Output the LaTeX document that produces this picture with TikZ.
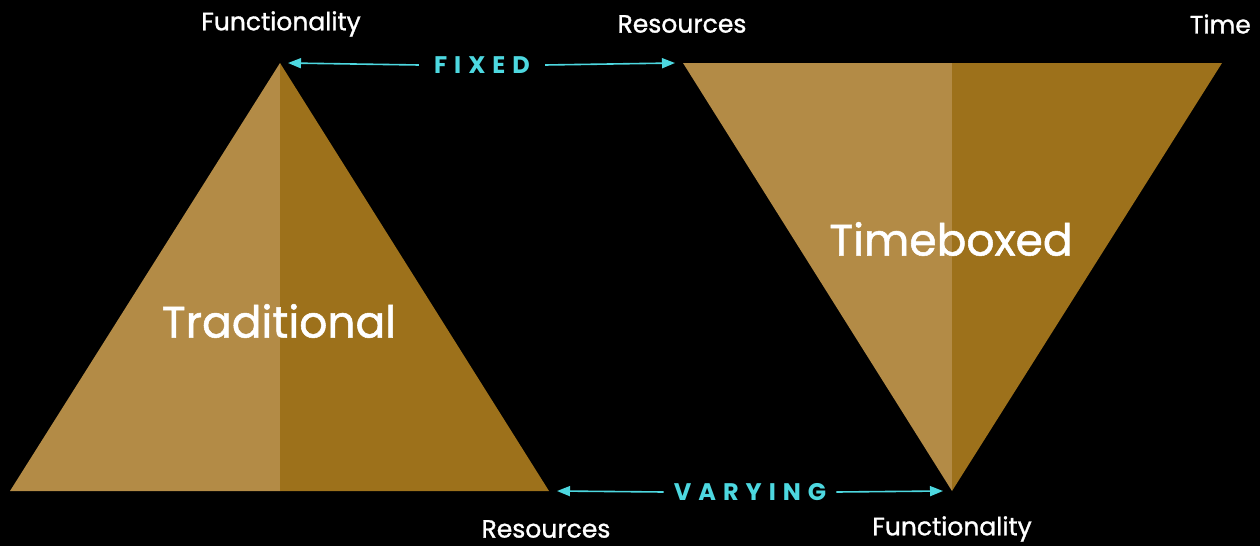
\documentclass[tikz,border=0pt]{standalone}
\usepackage{fontspec}
\setmainfont{Poppins}
\newfontfamily\medfont[FakeBold=1.2]{Poppins}
\usetikzlibrary{arrows.meta}
\definecolor{light}{HTML}{B38B46}
\definecolor{dark}{HTML}{9D711B}
\definecolor{cyanish}{HTML}{4DD8E0}
\newcommand{\lsp}{\hspace{7pt}}
\tikzset{
  lbl/.style={text=white, font=\medfont\fontsize{25}{28}\selectfont, inner sep=0pt},
  big/.style={text=white, font=\medfont\fontsize{44}{50}\selectfont, inner sep=0pt},
  tag/.style={text=cyanish, font=\fontsize{24}{28}\selectfont\bfseries, inner sep=0pt},
  arr/.style={draw=cyanish, line width=1.6pt, -{Triangle[length=13pt,width=10pt]}},
}
\begin{document}
\begin{tikzpicture}[x=1pt,y=-1pt]
\fill[black] (0,0) rectangle (1260,546);
\useasboundingbox (0,0) rectangle (1260,546);
% left triangle
\fill[light] (280,63) -- (10,491) -- (280,491) -- cycle;
\fill[dark] (280,63) -- (549,491) -- (280,491) -- cycle;
% right triangle
\fill[light] (683,63) -- (952,63) -- (952,491) -- cycle;
\fill[dark] (952,63) -- (1222,63) -- (952,491) -- cycle;
\coordinate (ltop) at (288,63);
\coordinate (rtopL) at (675,63);
\coordinate (lbr) at (557,491);
\coordinate (rbot) at (943,491);
\node[big] (trad) at (279,321) {Traditional};
\node[big] (tbox) at (951,239) {Timeboxed};
\node[tag] (fixed) at (482,65) {F\lsp I\lsp X\lsp E\lsp D};
\node[tag] (varying) at (750,492) {V\lsp A\lsp R\lsp Y\lsp I\lsp N\lsp G};
\draw[arr] (fixed.west) ++(-15pt,0) -- (ltop);
\draw[arr] (fixed.east) ++(15pt,0) -- (rtopL);
\draw[arr] (varying.west) ++(-10pt,0) -- (lbr);
\draw[arr] (varying.east) ++(10pt,0) -- (rbot);
\node[lbl] (f1) at (281,24) {Functionality};
\node[lbl] (r1) at (682,24) {Resources};
\node[lbl, anchor=east] (t1) at (1251,24) {Time};
\node[lbl] (r2) at (546,529) {Resources};
\node[lbl] (f2) at (952,529) {Functionality};
\end{tikzpicture}
\end{document}
